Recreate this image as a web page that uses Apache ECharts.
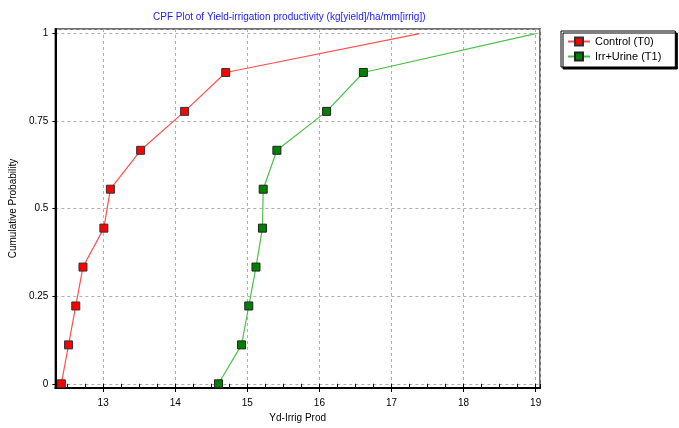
<!DOCTYPE html>
<html>
<head>
<meta charset="utf-8">
<script src="https://cdn.jsdelivr.net/npm/echarts@6/dist/echarts.min.js"></script>
<style>html,body{margin:0;padding:0;background:#fff;}#c{width:679px;height:428px;}</style>
</head>
<body>
<div id="c"></div>
<script>
const probabilities = [0, 0.1111, 0.2222, 0.3333, 0.4444, 0.5556, 0.6667, 0.7778, 0.8889, 1];
const controlT0 = [12.42, 12.52, 12.62, 12.72, 13.01, 13.1, 13.52, 14.13, 14.7, 17.39];
const irrUrineT1 = [14.6, 14.92, 15.02, 15.12, 15.21, 15.22, 15.41, 16.1, 16.61, 19.0];
const seriesNames = ['Control (T0)', 'Irr+Urine (T1)'];
const titleText = 'CPF Plot of Yield-irrigation productivity (kg[yield]/ha/mm[irrig])';
const xName = 'Yd-Irrig Prod';
const yName = 'Cumulative Probability';

function pts(xs) {
  return xs.map(function (x, i) {
    const item = { value: [x, probabilities[i]] };
    if (i === xs.length - 1) item.symbol = 'none';
    return item;
  });
}

const font = 'Liberation Sans, Arial, sans-serif';
const chart = echarts.init(document.getElementById('c'), null, { renderer: 'canvas' });
chart.setOption({
  animation: false,
  backgroundColor: '#fff',
  title: {
    text: titleText, left: 148, top: 7,
    textStyle: { color: '#1a1aff', fontSize: 10, fontWeight: 'normal', fontFamily: font }
  },
  legend: {
    orient: 'vertical', left: 561, top: 31,
    padding: [5, 14, 5, 6], itemGap: 4,
    itemWidth: 22, itemHeight: 10,
    backgroundColor: '#fff', borderColor: '#000', borderWidth: 1,
    shadowColor: '#000', shadowBlur: 0, shadowOffsetX: 2, shadowOffsetY: 2,
    textStyle: { color: '#000', fontSize: 11, fontFamily: font },
    data: seriesNames
  },
  grid: {
    left: 53, top: 29, right: 139, bottom: 36,
    show: true, borderColor: '#707070', borderWidth: 2, backgroundColor: '#fff'
  },
  xAxis: [{
    type: 'value', min: 12.337, max: 19.06, minInterval: 1, maxInterval: 1,
    name: xName, nameLocation: 'middle', nameGap: 25,
    nameTextStyle: { color: '#000', fontSize: 10, fontFamily: font },
    axisLine: { show: true, onZero: false, lineStyle: { color: '#000', width: 2 } },
    axisTick: { show: true, length: 4, lineStyle: { color: '#000' } },
    axisLabel: { color: '#000', fontSize: 10, fontFamily: font, margin: 10, showMinLabel: false, showMaxLabel: false },
    splitLine: { show: true, lineStyle: { color: '#b0b0b0', type: [3, 3], width: 1 } }
  }, {
    type: 'value', position: 'bottom', min: 12.337, max: 19.06, minInterval: 0.25, maxInterval: 0.25,
    axisLine: { show: false },
    axisTick: { show: true, length: 4, lineStyle: { color: '#000' } },
    axisLabel: { show: false },
    splitLine: { show: false }
  }],
  yAxis: {
    type: 'value', min: -0.012, max: 1.013, minInterval: 0.25, maxInterval: 0.25,
    name: yName, nameLocation: 'middle', nameGap: 34, nameRotate: 90,
    nameTextStyle: { color: '#000', fontSize: 10, fontFamily: font },
    axisLine: { show: true, onZero: false, lineStyle: { color: '#000', width: 2 } },
    axisTick: { show: true, length: 3, lineStyle: { color: '#000' } },
    axisLabel: { color: '#000', fontSize: 10, fontFamily: font, margin: 7, showMinLabel: false, showMaxLabel: false },
    splitLine: { show: true, lineStyle: { color: '#b0b0b0', type: [3, 3], width: 1 } }
  },
  series: [{
    name: seriesNames[0], type: 'line', xAxisIndex: 0, data: pts(controlT0),
    symbol: 'rect', symbolSize: 8, showSymbol: true,
    lineStyle: { color: '#ff5050', width: 1.2 },
    itemStyle: { color: '#ff0000', borderColor: '#333', borderWidth: 1 }
  }, {
    name: seriesNames[1], type: 'line', xAxisIndex: 0, data: pts(irrUrineT1),
    symbol: 'rect', symbolSize: 8, showSymbol: true,
    lineStyle: { color: '#4cc04c', width: 1.2 },
    itemStyle: { color: '#008000', borderColor: '#222', borderWidth: 1 }
  }]
});
</script>
</body>
</html>
